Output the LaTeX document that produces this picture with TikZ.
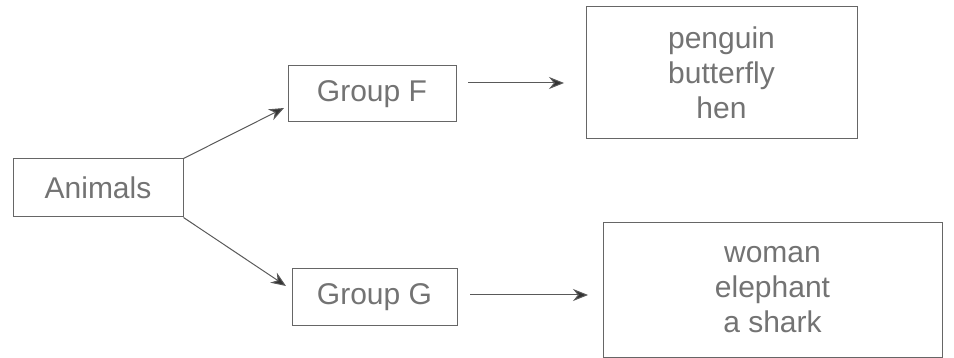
\documentclass[tikz,border=0pt]{standalone}
\usepackage{fontspec}
\setmainfont{Liberation Sans}
\usetikzlibrary{arrows.meta}
\begin{document}
\begin{tikzpicture}[x=1pt,y=-1pt,
	box/.style={draw=black!60,line width=1pt,text=black!55,font=\fontsize{30}{35}\selectfont,inner sep=0pt,align=center},
	link/.style={draw=black!65,line width=1pt,-{Stealth[length=15pt,width=12pt,fill=black!80]}}]
	\useasboundingbox (0,0) rectangle (954,358);
	\node[box,minimum width=170,minimum height=58] (ani) at (98,188) {Animals};
	\node[box,minimum width=168,minimum height=56] (gF) at (372,94) {Group F};
	\node[box,minimum width=165,minimum height=57] (gG) at (374.5,297) {Group G};
	\node[box,minimum width=271,minimum height=132] (lF) at (721.5,73) {penguin\\butterfly\\hen};
	\node[box,minimum width=339,minimum height=134] (lG) at (772.5,290) {woman\\elephant\\a shark};
	\path (284,108) coordinate (tF) (286,286) coordinate (tG)
	(468,83) coordinate (sF) (564,83) coordinate (eF)
	(470,295) coordinate (sG) (588,295) coordinate (eG);
	\draw[link] (ani.north east)--(tF);
	\draw[link] (ani.south east)--(tG);
	\draw[link] (sF)--(eF);
	\draw[link] (sG)--(eG);
\end{tikzpicture}
\end{document}
